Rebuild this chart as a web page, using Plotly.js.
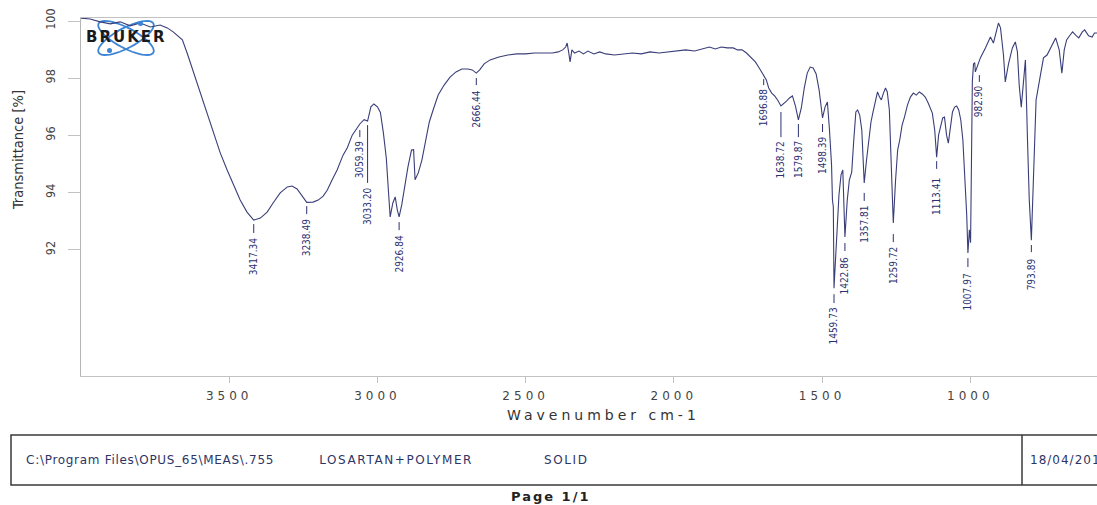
<!DOCTYPE html>
<html>
<head>
<meta charset="utf-8">
<script src="https://cdn.plot.ly/plotly-3.0.1.min.js"></script>
<style>
  html, body { margin: 0; padding: 0; background: #fff; overflow: hidden; }
  #chart { width: 1097px; height: 505px; }
  .xtick text { letter-spacing: 4px; }
  g.annotation[data-index="0"] text { letter-spacing: 4px; }
  g.annotation[data-index="2"] text { letter-spacing: 0.7px; }
  g.annotation[data-index="3"] text { letter-spacing: 1.6px; }
  g.annotation[data-index="4"] text { letter-spacing: 1.6px; }
  g.annotation[data-index="5"] text { letter-spacing: 1px; }
  g.annotation[data-index="6"] text { letter-spacing: 2px; }
  g.annotation[data-index="7"] text { letter-spacing: 2px; }
</style>
</head>
<body>
<div id="chart"></div>
<script>
// FT-IR spectrum, LOSARTAN+POLYMER (solid), transmittance vs wavenumber
const wavenumber = [
  4000, 3969, 3935, 3901, 3868, 3834, 3800, 3766, 3733, 3709, 3689, 3672, 3658, 3642, 3621,
  3598, 3574, 3554, 3530, 3507, 3487, 3463, 3440, 3417.34, 3395, 3372, 3352, 3328, 3304, 3288,
  3271, 3254, 3238.49, 3217, 3200, 3183, 3169, 3153, 3136, 3116, 3102, 3085, 3068, 3059.39, 3045,
  3033.20, 3022, 3012, 3000, 2990, 2980, 2970, 2965, 2957, 2948, 2940, 2933, 2926.84, 2918, 2910,
  2897, 2885, 2878, 2873, 2862, 2850, 2838, 2825, 2810, 2795, 2775, 2755, 2735, 2715, 2695,
  2680, 2666.44, 2655, 2640, 2620, 2590, 2560, 2530, 2500, 2470, 2440, 2410, 2390, 2375, 2365,
  2360, 2355, 2350, 2344, 2335, 2320, 2305, 2290, 2270, 2250, 2230, 2200, 2170, 2140, 2110,
  2080, 2050, 2020, 1990, 1960, 1930, 1900, 1880, 1860, 1840, 1820, 1800, 1785, 1770, 1755,
  1740, 1725, 1712, 1704, 1696.88, 1688, 1680, 1670, 1660, 1650, 1638.72, 1630, 1620, 1610, 1600,
  1590, 1579.87, 1570, 1560, 1550, 1540, 1530, 1520, 1510, 1498.39, 1490, 1482, 1475, 1468, 1465,
  1462, 1459.73, 1450, 1443, 1436, 1430, 1422.86, 1415, 1408, 1400, 1393, 1386, 1380, 1373, 1366,
  1357.81, 1350, 1343, 1335, 1328, 1320, 1313, 1306, 1300, 1293, 1286, 1280, 1273, 1266, 1259.72,
  1252, 1245, 1238, 1230, 1222, 1212, 1202, 1192, 1182, 1172, 1162, 1152, 1142, 1135, 1128,
  1120, 1113.41, 1107, 1100, 1093, 1087, 1080, 1074, 1067, 1060, 1053, 1046, 1039, 1032, 1025,
  1018, 1012, 1007.97, 1003, 999, 996, 993, 989, 985, 982.90, 966, 949, 932, 922, 912,
  905, 898, 888, 882, 875, 871, 858, 848, 841, 835, 828, 821, 814, 807, 801,
  793.89, 786, 778, 765, 753, 741, 728, 712, 700, 691, 683, 675, 663, 655, 642,
  634, 622, 614, 601, 589, 581, 572, 565
];
const transmittance = [
  100.10, 100.07, 99.97, 99.90, 99.97, 99.83, 99.93, 99.79, 99.86, 99.76, 99.62, 99.48, 99.34, 98.88, 98.22,
  97.48, 96.78, 96.08, 95.38, 94.79, 94.30, 93.74, 93.32, 93.04, 93.11, 93.32, 93.64, 93.99, 94.20, 94.23,
  94.13, 93.88, 93.66, 93.67, 93.74, 93.88, 94.09, 94.44, 94.79, 95.31, 95.56, 96.01, 96.29, 96.40, 96.55,
  96.50, 97.00, 97.10, 97.00, 96.80, 96.10, 95.20, 94.40, 93.15, 93.64, 93.85, 93.40, 93.15, 93.57, 94.09,
  94.90, 95.49, 95.50, 94.45, 94.70, 95.14, 95.84, 96.47, 96.96, 97.41, 97.76, 98.04, 98.22, 98.32, 98.32,
  98.29, 98.18, 98.29, 98.50, 98.64, 98.74, 98.81, 98.85, 98.85, 98.88, 98.88, 98.88, 98.92, 98.99, 99.09,
  99.23, 98.92, 98.57, 98.99, 98.88, 98.95, 98.85, 98.95, 98.85, 98.92, 98.85, 98.81, 98.85, 98.88, 98.85,
  98.92, 98.88, 98.92, 98.95, 98.99, 98.95, 99.02, 99.09, 99.02, 99.09, 99.06, 99.06, 98.99, 98.99, 98.88,
  98.74, 98.57, 98.36, 98.22, 98.08, 97.94, 97.66, 97.48, 97.38, 97.24, 97.03, 97.10, 97.20, 97.31, 97.38,
  97.03, 96.54, 96.96, 97.66, 98.18, 98.39, 98.36, 98.15, 97.59, 96.61, 96.99, 97.17, 96.19, 94.97, 93.74,
  93.50, 90.66, 92.69, 93.92, 94.62, 94.79, 92.45, 93.74, 94.44, 94.72, 95.84, 96.82, 96.89, 96.71, 96.19,
  94.34, 95.14, 95.84, 96.47, 96.82, 97.24, 97.52, 97.34, 97.24, 97.48, 97.66, 97.52, 96.89, 94.79, 92.94,
  94.44, 95.49, 95.84, 96.36, 96.64, 97.06, 97.34, 97.48, 97.41, 97.52, 97.45, 97.34, 97.13, 96.96, 96.78,
  96.19, 95.24, 96.01, 96.36, 96.61, 96.64, 96.01, 95.73, 96.36, 96.82, 96.99, 97.03, 96.89, 96.54, 95.84,
  94.62, 93.22, 91.89, 92.70, 92.25, 95.50, 97.90, 98.50, 98.55, 98.22, 98.71, 99.06, 99.44, 99.23, 99.69,
  99.93, 99.76, 98.81, 97.87, 98.29, 98.50, 99.06, 99.27, 98.92, 97.76, 96.99, 97.94, 98.64, 95.84, 93.74,
  92.34, 94.79, 97.24, 98.01, 98.71, 98.81, 99.06, 99.41, 98.99, 98.18, 98.99, 99.34, 99.51, 99.62, 99.48,
  99.41, 99.62, 99.69, 99.48, 99.44, 99.58, 99.58, 99.55
];

// picked peaks (wavenumber, transmittance at the minimum)
const peakWn = [3417.34, 3238.49, 3059.39, 3033.20, 2926.84, 2666.44, 1696.88, 1638.72, 1579.87,
                1498.39, 1459.73, 1422.86, 1357.81, 1259.72, 1113.41, 1007.97, 982.90, 793.89];
const peakT  = [93.04, 93.66, 96.40, 96.50, 93.15, 98.18, 98.08, 97.03, 96.54,
                96.61, 90.66, 92.45, 94.34, 92.94, 95.24, 91.89, 98.22, 92.34];

// axis tick values
const xTicks = [3500, 3000, 2500, 2000, 1500, 1000];
const yTicks = [92, 94, 96, 98, 100];

// footer strip texts
const footerFile = 'C:\\Program Files\\OPUS_65\\MEAS\\.755';
const footerSample = 'LOSARTAN+POLYMER';
const footerForm = 'SOLID';
const footerDate = '18/04/2019';
const pageText = 'Page 1/1';

// label placement: leader top, leader bottom and text top (in %T), sideways nudge (px)
const leaderTop    = [92.90, 93.53, 96.19, 96.36, 92.97, 98.01, 97.97, 96.82, 96.40,
                      96.40, 90.45, 92.24, 93.99, 92.55, 95.10, 91.71, 98.11, 92.17];
const leaderBottom = [92.59, 93.25, 95.94, 94.34, 92.69, 97.76, 97.76, 95.94, 95.94,
                      96.12, 90.14, 91.96, 93.71, 92.27, 94.83, 91.40, 97.87, 91.92];
const labelTop     = [92.45, 93.11, 95.84, 94.20, 92.52, 97.59, 97.66, 95.84, 95.84,
                      95.98, 90.00, 91.78, 93.57, 92.13, 94.55, 91.22, 97.80, 91.75];
const labelShift   = [0, 0, 0, 0, 0, 0, 0, 0, 0,
                      0, 0, 0, 0, 0, 0, 0, 4, 0];

// plot-area geometry in pixels, used to place the frame items around it
const W = 1097, H = 505;
const M = {l: 81, r: 0, t: 18, b: 129};
const pw = W - M.l - M.r, ph = H - M.t - M.b;
const px = v => (v - M.l) / pw;            // pixel x -> paper x
const py = v => (H - M.b - v) / ph;        // pixel y -> paper y

const NAVY = '#2b3070';
const narrow = 'Liberation Sans Narrow, DejaVu Sans Condensed, Arial Narrow, sans-serif';
const wide = 'DejaVu Sans, Verdana, sans-serif';

const trace = {
  x: wavenumber, y: transmittance, type: 'scatter', mode: 'lines',
  line: {color: '#3a3e78', width: 1.1}, hoverinfo: 'skip'
};

const annotations = [];
// 0: x title
annotations.push({xref: 'paper', yref: 'paper', x: px(603), y: py(415), text: 'Wavenumber cm-1',
  showarrow: false, xanchor: 'center', yanchor: 'middle', font: {family: wide, size: 14, color: '#333'}});
// 1: y title
annotations.push({xref: 'paper', yref: 'paper', x: px(18), y: py(150), text: 'Transmittance [%]',
  textangle: -90, showarrow: false, xanchor: 'center', yanchor: 'middle', font: {family: narrow, size: 14.5, color: '#333'}});
// 2-5: footer fields (centred on their spans)
const footFont = {family: wide, size: 12, color: '#2e3566'};
annotations.push({xref: 'paper', yref: 'paper', x: px(150), y: py(460), text: footerFile, showarrow: false, xanchor: 'center', yanchor: 'middle', font: footFont});
annotations.push({xref: 'paper', yref: 'paper', x: px(396), y: py(460), text: footerSample, showarrow: false, xanchor: 'center', yanchor: 'middle', font: footFont});
annotations.push({xref: 'paper', yref: 'paper', x: px(566), y: py(460), text: footerForm, showarrow: false, xanchor: 'center', yanchor: 'middle', font: footFont});
annotations.push({xref: 'paper', yref: 'paper', x: px(1069), y: py(460), text: footerDate, showarrow: false, xanchor: 'center', yanchor: 'middle', font: footFont});
// 6: page number
annotations.push({xref: 'paper', yref: 'paper', x: px(550), y: py(497), text: '<b>' + pageText + '</b>', showarrow: false, xanchor: 'center', yanchor: 'middle', font: {family: wide, size: 13, color: '#222'}});
// 7: instrument logo lettering
annotations.push({xref: 'paper', yref: 'paper', x: px(126), y: py(37), text: '<b>BRUKER</b>', showarrow: false, xanchor: 'center', yanchor: 'middle', font: {family: wide, size: 15, color: '#1a1a1a'}});

// peak labels
peakWn.forEach((w, i) => {
  annotations.push({xref: 'x', yref: 'y', x: w, y: labelTop[i], text: w.toFixed(2), textangle: -90,
    showarrow: false, xanchor: 'center', yanchor: 'top', borderpad: 0, xshift: labelShift[i],
    font: {family: narrow, size: 10, color: NAVY}});
});

const shapes = [];
// leader lines
peakWn.forEach((w, i) => {
  shapes.push({type: 'line', xref: 'x', yref: 'y', xsizemode: 'pixel', xanchor: w,
    x0: labelShift[i], x1: labelShift[i], y0: leaderTop[i], y1: leaderBottom[i],
    line: {color: NAVY, width: 1}});
});
// footer box and divider
shapes.push({type: 'rect', xref: 'paper', yref: 'paper', x0: px(11), x1: px(1110), y0: py(485), y1: py(435),
  line: {color: '#3a3a3a', width: 1.5}});
shapes.push({type: 'line', xref: 'paper', yref: 'paper', x0: px(1022), x1: px(1022), y0: py(485), y1: py(435),
  line: {color: '#3a3a3a', width: 1.5}});

// logo orbits
function orbit(cx, cy, a, b, deg) {
  const r = deg * Math.PI / 180;
  let d = '';
  for (let k = 0; k <= 48; k++) {
    const t = k / 48 * 2 * Math.PI;
    const x = cx + a * Math.cos(t) * Math.cos(r) - b * Math.sin(t) * Math.sin(r);
    const y = cy + a * Math.cos(t) * Math.sin(r) + b * Math.sin(t) * Math.cos(r);
    d += (k === 0 ? 'M' : 'L') + px(x).toFixed(5) + ',' + py(y).toFixed(5);
  }
  return d + 'Z';
}
shapes.push({type: 'path', xref: 'paper', yref: 'paper', path: orbit(126, 38, 31, 10, 28), line: {color: '#3c84d4', width: 1.8}, layer: 'below'});
shapes.push({type: 'path', xref: 'paper', yref: 'paper', path: orbit(126, 38, 31, 10, -28), line: {color: '#3c84d4', width: 1.8}, layer: 'below'});
shapes.push({type: 'circle', xref: 'paper', yref: 'paper', x0: px(107), x1: px(112), y0: py(53), y1: py(48), fillcolor: '#3c84d4', line: {width: 0}});
shapes.push({type: 'circle', xref: 'paper', yref: 'paper', x0: px(138), x1: px(143), y0: py(26), y1: py(21), fillcolor: '#3c84d4', line: {width: 0}});

const layout = {
  width: W, height: H, margin: M,
  paper_bgcolor: '#ffffff', plot_bgcolor: '#ffffff', showlegend: false,
  xaxis: {
    range: [4000, 572.5], tickvals: xTicks, ticktext: xTicks.map(String),
    showgrid: false, zeroline: false, showline: true, mirror: true,
    linecolor: '#c2c2c2', linewidth: 1,
    ticks: 'outside', ticklen: 6, tickcolor: '#c2c2c2', ticklabelstandoff: 3,
    tickfont: {family: wide, size: 12, color: '#444'}
  },
  yaxis: {
    range: [87.59, 100.105], tickvals: yTicks, ticktext: yTicks.map(String),
    showgrid: false, zeroline: false, showline: true,
    linecolor: '#b5b5b5', linewidth: 1.2,
    ticks: 'outside', ticklen: 12, tickcolor: '#c2c2c2', tickangle: -90, ticklabelstandoff: 8,
    tickfont: {family: narrow, size: 12.5, color: '#444'}
  },
  annotations: annotations,
  shapes: shapes
};

Plotly.newPlot('chart', [trace], layout, {staticPlot: true, displayModeBar: false});
</script>
</body>
</html>
